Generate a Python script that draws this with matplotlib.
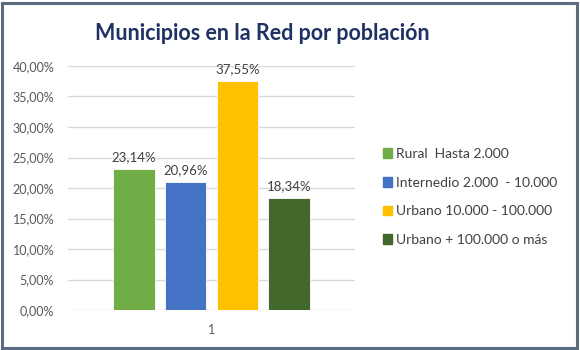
import numpy as np
import matplotlib.pyplot as plt
from matplotlib.patches import Rectangle

# data
categories = ["Rural  Hasta 2.000", "Internedio 2.000  - 10.000",
              "Urbano 10.000 - 100.000", "Urbano + 100.000 o más"]
values = [23.14, 20.96, 37.55, 18.34]
colors = ["#70AD47", "#4472C4", "#FFC000", "#43682B"]
yticks = [0, 5, 10, 15, 20, 25, 30, 35, 40]

plt.rcParams['font.family'] = ['Lato', 'DejaVu Sans']

fig = plt.figure(figsize=(5.8, 3.5), dpi=100)
ax = fig.add_axes([68/580, 40/350, 287/580, 244/350])

offsets = (np.arange(len(values)) - 1.5) * 0.18
bars = ax.bar(1 + offsets, values, width=0.143, color=colors,
              edgecolor="white", linewidth=0.6, zorder=3)
for b, v in zip(bars, values):
    ax.text(b.get_x() + b.get_width()/2, v + 1.0, f"{v:.2f}%".replace(".", ","),
            ha="center", va="bottom", fontsize=9.5, color="#404040")

ax.set_xlim(0.5, 1.5)
ax.set_ylim(0, 40)
ax.set_yticks(yticks)
ax.set_yticklabels([f"{t:.2f}%".replace(".", ",") for t in yticks])
ax.set_xticks([1])
ax.set_xticklabels(["1"])
ax.tick_params(length=0, labelsize=9, labelcolor="#595959", pad=10)
ax.tick_params(axis="x", pad=10)
ax.grid(axis="y", color="#D9D9D9", linewidth=1, zorder=0)
for s in ax.spines.values():
    s.set_visible(False)

handles = [Rectangle((0, 0), 1, 1, color=c) for c in colors]
fig.legend(handles, categories, loc="center left", bbox_to_anchor=(370/580, 1 - 197/350),
           frameon=False, fontsize=10, labelcolor="#404040", handlelength=0.7,
           handleheight=0.7, handletextpad=0.3, labelspacing=1.2)

fig.text(262/580, 1 - 33/350, "Municipios en la Red por población", ha="center", va="center",
         fontsize=15.5, fontweight="bold", color="#1F3263")

fig.patches.append(Rectangle((2/580, 2/350), 575/580, 345/350, transform=fig.transFigure,
                             fill=False, edgecolor="#5B6B80", linewidth=2.2))

fig.savefig("out.png", dpi=100)
